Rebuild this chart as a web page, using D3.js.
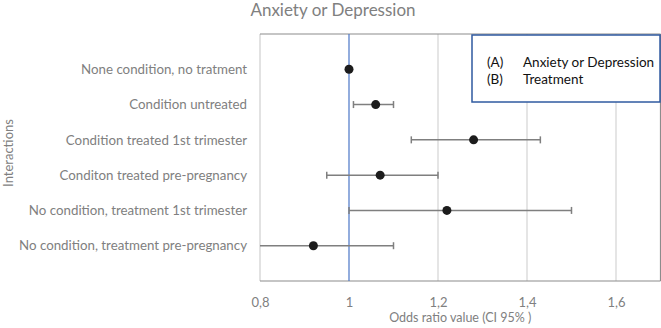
<!DOCTYPE html>
<html>
<head>
<meta charset="utf-8">
<script src="https://cdn.jsdelivr.net/npm/d3@7"></script>
<style>
	body { margin: 0; background: #fff; }
	text { font-family: Lato, "Open Sans", sans-serif; }
</style>
</head>
<body>
<div id="chart"></div>
<script>
// Odds ratios with 95% CI
const categories = [
	"None condition, no tratment",
	"Condition untreated",
	"Condition treated 1st trimester",
	"Conditon treated pre-pregnancy",
	"No condition, treatment 1st trimester",
	"No condition, treatment pre-pregnancy",
];
const oddsRatios = [1.0, 1.06, 1.28, 1.07, 1.22, 0.92];
const ciLower = [null, 1.01, 1.14, 0.95, 1.0, 0.8];
const ciUpper = [null, 1.1, 1.43, 1.2, 1.5, 1.1];
const xTicks = [0.8, 1, 1.2, 1.4, 1.6];
const legendItems = [
	{ key: "(A)", label: "Anxiety or Depression" },
	{ key: "(B)", label: "Treatment" },
];

const width = 661;
const height = 328;
const margin = { top: 34, right: 1, bottom: 47, left: 260 };

const svg = d3
	.select("#chart")
	.append("svg")
	.attr("width", width)
	.attr("height", height);

const xScale = d3
	.scaleLinear()
	.domain([0.8, 1.7])
	.range([margin.left, margin.left + 445 * 0.9]);

// Excel-style category axis: points sit at 1..6 of a 0..7 span
const yScale = d3
	.scalePoint()
	.domain(categories)
	.range([margin.top, height - margin.bottom])
	.padding(1);

const plotRight = xScale(1.7);
const plotBottom = height - margin.bottom;

// gridlines
svg.append("g")
	.selectAll("line")
	.data(xTicks.filter((d) => d > 1))
	.join("line")
	.attr("x1", (d) => xScale(d))
	.attr("x2", (d) => xScale(d))
	.attr("y1", margin.top)
	.attr("y2", plotBottom)
	.attr("stroke", "#dcdcdc")
	.attr("stroke-width", 1.5);

// plot frame
svg.append("line")
	.attr("x1", margin.left)
	.attr("x2", margin.left)
	.attr("y1", margin.top)
	.attr("y2", plotBottom)
	.attr("stroke", "#d9d9d9")
	.attr("stroke-width", 1.5);
svg.append("line")
	.attr("x1", plotRight)
	.attr("x2", plotRight)
	.attr("y1", margin.top)
	.attr("y2", plotBottom)
	.attr("stroke", "#8c8c8c")
	.attr("stroke-width", 1.2);
svg.append("line")
	.attr("x1", margin.left)
	.attr("x2", plotRight)
	.attr("y1", margin.top)
	.attr("y2", margin.top)
	.attr("stroke", "#8c8c8c")
	.attr("stroke-width", 1.2);
svg.append("line")
	.attr("x1", margin.left)
	.attr("x2", plotRight)
	.attr("y1", plotBottom)
	.attr("y2", plotBottom)
	.attr("stroke", "#8c8c8c")
	.attr("stroke-width", 1.2);

// reference line at OR = 1
svg.append("line")
	.attr("x1", xScale(1))
	.attr("x2", xScale(1))
	.attr("y1", margin.top)
	.attr("y2", plotBottom)
	.attr("stroke", "#4a76c6")
	.attr("stroke-width", 1.2);

// x axis labels
const xAxis = svg
	.append("g")
	.attr("transform", `translate(0, ${plotBottom + 14})`)
	.call(
		d3
			.axisBottom(xScale)
			.tickValues(xTicks)
			.tickSize(0)
			.tickFormat((d) => d3.format(".1~f")(d).replace(".", ","))
	);
xAxis.select(".domain").remove();
xAxis.selectAll("text")
	.attr("fill", "#808080")
	.style("font-size", "13px")
	.style("font-family", "Lato, sans-serif");

svg.append("text")
	.text("Odds ratio value (CI 95% )")
	.attr("x", (margin.left + plotRight) / 2)
	.attr("y", 322)
	.attr("text-anchor", "middle")
	.attr("fill", "#808080")
	.style("font-size", "12.5px");

// y category labels
svg.append("g")
	.selectAll("text")
	.data(categories)
	.join("text")
	.attr("x", 247)
	.attr("y", (d) => yScale(d))
	.attr("dy", "0.35em")
	.attr("text-anchor", "end")
	.attr("fill", "#808080")
	.style("font-size", "13.3px")
	.text((d) => d);

svg.append("text")
	.text("Interactions")
	.attr("text-anchor", "middle")
	.attr("fill", "#808080")
	.style("font-size", "13px")
	.attr("transform", `translate(12.5, ${153}) rotate(-90)`);

// title
svg.append("text")
	.text("Anxiety or Depression")
	.attr("x", 333)
	.attr("y", 15.5)
	.attr("text-anchor", "middle")
	.attr("fill", "#808080")
	.style("font-size", "17px");

const rows = categories.map((c, i) => ({
	name: c,
	or: oddsRatios[i],
	lo: ciLower[i],
	hi: ciUpper[i],
}));

// error bars
const bars = svg
	.append("g")
	.selectAll("g")
	.data(rows.filter((d) => d.lo !== null))
	.join("g")
	.attr("stroke", "#7f7f7f")
	.attr("stroke-width", 1.5);
bars.append("line")
	.attr("x1", (d) => xScale(d.lo))
	.attr("x2", (d) => xScale(d.hi))
	.attr("y1", (d) => yScale(d.name))
	.attr("y2", (d) => yScale(d.name));
bars.append("line")
	.attr("x1", (d) => xScale(d.hi))
	.attr("x2", (d) => xScale(d.hi))
	.attr("y1", (d) => yScale(d.name) - 3.5)
	.attr("y2", (d) => yScale(d.name) + 3.5);
bars.filter((d) => d.lo > 0.8)
	.append("line")
	.attr("x1", (d) => xScale(d.lo))
	.attr("x2", (d) => xScale(d.lo))
	.attr("y1", (d) => yScale(d.name) - 3.5)
	.attr("y2", (d) => yScale(d.name) + 3.5);

// points
svg.append("g")
	.selectAll("circle")
	.data(rows)
	.join("circle")
	.attr("cx", (d) => xScale(d.or))
	.attr("cy", (d) => yScale(d.name))
	.attr("r", 4.5)
	.attr("fill", "#1c1c1c");

// legend box
const legend = svg.append("g").attr("transform", "translate(472, 35)");
legend
	.append("rect")
	.attr("width", 188)
	.attr("height", 67)
	.attr("fill", "#fff")
	.attr("stroke", "#2f5aa0")
	.attr("stroke-width", 1.5);
legend
	.selectAll(".leg")
	.data(legendItems)
	.join("g")
	.attr("class", "leg")
	.each(function (d, i) {
		const g = d3.select(this);
		g.append("text")
			.attr("x", 15)
			.attr("y", 27 + i * 17)
			.attr("dy", "0.35em")
			.attr("fill", "#111")
			.style("font-size", "13.5px")
			.text(d.key);
		g.append("text")
			.attr("x", 51)
			.attr("y", 27 + i * 17)
			.attr("dy", "0.35em")
			.attr("fill", "#111")
			.style("font-size", "13.5px")
			.text(d.label);
	});
</script>
</body>
</html>
